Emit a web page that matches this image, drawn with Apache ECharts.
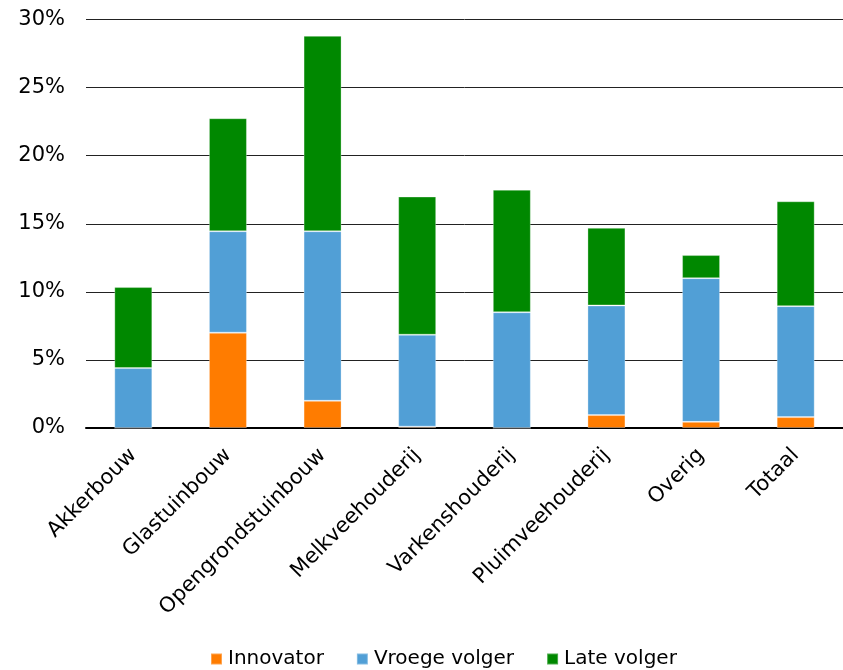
<!DOCTYPE html>
<html>
<head>
<meta charset="utf-8">
<script src="https://cdn.jsdelivr.net/npm/echarts@6/dist/echarts.min.js"></script>
<style>html,body{margin:0;padding:0;background:#fff;}#c{width:843px;height:670px;}</style>
</head>
<body>
<div id="c"></div>
<script>
var categories = ['Akkerbouw','Glastuinbouw','Opengrondstuinbouw','Melkveehouderij','Varkenshouderij','Pluimveehouderij','Overig','Totaal'];
var innovator = [0, 7.0, 2.0, 0.1, 0, 0.95, 0.45, 0.8];
var vroegeVolger = [4.4, 7.45, 12.45, 6.75, 8.5, 8.05, 10.55, 8.15];
var lateVolger = [5.95, 8.3, 14.35, 10.15, 9.0, 5.7, 1.7, 7.7];
var yTicks = [0, 5, 10, 15, 20, 25, 30];

var font = 'DejaVu Sans';
var chart = echarts.init(document.getElementById('c'));
function s(name, data, color) {
  return {
    name: name, type: 'bar', stack: 'total', data: data, barWidth: 38,
    itemStyle: { color: color, borderColor: 'rgba(255,255,255,0.3)', borderWidth: 1 },
    emphasis: { disabled: true }
  };
}
chart.setOption({
  animation: false,
  textStyle: { fontFamily: font },
  grid: { left: 86, right: 0, top: 19.5, bottom: 242, containLabel: false },
  legend: {
    top: 644, left: 205, itemWidth: 11, itemHeight: 11, itemGap: 32, icon: 'rect',
    textStyle: { fontFamily: font, fontSize: 20, color: '#000', padding: [0, 0, 0, 1] },
    data: ['Innovator', 'Vroege volger', 'Late volger']
  },
  xAxis: {
    type: 'category', data: categories,
    axisLine: { lineStyle: { color: '#000', width: 2 } },
    axisTick: { show: false },
    axisLabel: { rotate: 45, interval: 0, margin: 24, fontFamily: font, fontSize: 21, color: '#000' }
  },
  yAxis: {
    type: 'value', min: yTicks[0], max: yTicks[yTicks.length - 1], interval: 5,
    axisLine: { show: false }, axisTick: { show: false },
    axisLabel: { formatter: '{value}%', margin: 21, fontFamily: font, fontSize: 21, color: '#000' },
    splitLine: { lineStyle: { color: '#222', width: 1 } }
  },
  series: [
    s('Innovator', innovator, '#FF7C00'),
    s('Vroege volger', vroegeVolger, '#519FD6'),
    s('Late volger', lateVolger, '#008800')
  ]
});
</script>
</body>
</html>
